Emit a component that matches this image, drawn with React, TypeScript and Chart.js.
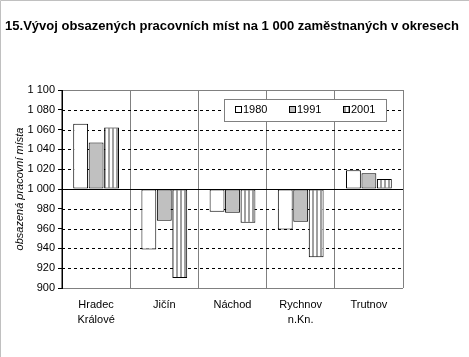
import React, { useEffect, useRef } from 'react';
import { Chart, registerables } from 'chart.js';

Chart.register(...registerables);

const categories: (string | string[])[] = [['Hradec', 'Králové'], 'Jičín', 'Náchod', ['Rychnov', 'n.Kn.'], 'Trutnov'];
const seriesLabels = ['1980', '1991', '2001'];
const values1980 = [1066, 939, 977, 959, 1019];
const values1991 = [1047, 968, 976, 967, 1016];
const values2001 = [1062, 910, 966, 931, 1010];
const yMin = 900;
const yMax = 1100;
const yStep = 20;
const baseValue = 1000;
const titleText = '15.Vývoj obsazených pracovních míst na 1 000 zaměstnaných v okresech';
const yAxisTitle = 'obsazená pracovní místa';

const FAMILY = '"Liberation Sans", Arial, sans-serif';

function fmt(v: number): string {
  const s = String(Math.round(v));
  return s.length > 3 ? s.slice(0, -3) + ' ' + s.slice(-3) : s;
}

function makeStripes(): CanvasPattern | string {
  const c = document.createElement('canvas');
  c.width = 4;
  c.height = 4;
  const g = c.getContext('2d');
  if (!g) return '#c0c0c0';
  g.fillStyle = '#ffffff';
  g.fillRect(0, 0, 4, 4);
  g.fillStyle = '#a0a0a0';
  g.fillRect(0, 0, 2, 4);
  const p = g.createPattern(c, 'repeat');
  return p || '#c0c0c0';
}

export default function App() {
  const ref = useRef<HTMLCanvasElement | null>(null);

  useEffect(() => {
    document.body.style.margin = '0';
    const canvas = ref.current;
    if (!canvas) return;
    const stripes = makeStripes();
    const fills: (string | CanvasPattern)[] = ['#ffffff', '#c0c0c0', stripes];

    const decor = {
      id: 'decor',
      beforeDraw(chart: any) {
        const ctx = chart.ctx as CanvasRenderingContext2D;
        ctx.save();
        ctx.fillStyle = '#fff';
        ctx.fillRect(0, 0, chart.width, chart.height);
        ctx.strokeStyle = '#c0c0c0';
        ctx.lineWidth = 1;
        ctx.beginPath();
        ctx.moveTo(0.5, chart.height);
        ctx.lineTo(0.5, 0.5);
        ctx.lineTo(chart.width, 0.5);
        ctx.stroke();
        ctx.font = 'bold 13px ' + FAMILY;
        ctx.fillStyle = '#000';
        ctx.textAlign = 'center';
        ctx.textBaseline = 'alphabetic';
        ctx.fillText(titleText, 232, 30);
        ctx.restore();
      },
      beforeDatasetsDraw(chart: any) {
        const ctx = chart.ctx as CanvasRenderingContext2D;
        const { left, right } = chart.chartArea;
        const y = chart.scales.y;
        ctx.save();
        ctx.lineWidth = 1;
        for (const t of y.ticks) {
          const v = t.value;
          if (v === baseValue) continue;
          const py = Math.round(y.getPixelForValue(v)) + 0.5;
          if (v === yMin || v === yMax) {
            ctx.strokeStyle = '#808080';
            ctx.setLineDash([]);
          } else {
            ctx.strokeStyle = '#000';
            ctx.setLineDash([3, 3]);
          }
          ctx.beginPath();
          ctx.moveTo(left, py);
          ctx.lineTo(right, py);
          ctx.stroke();
        }
        ctx.restore();
      },
      afterDatasetsDraw(chart: any) {
        const ctx = chart.ctx as CanvasRenderingContext2D;
        const { left, right, top, bottom } = chart.chartArea;
        const y = chart.scales.y;
        ctx.save();
        ctx.lineWidth = 1;
        ctx.strokeStyle = '#000';
        ctx.setLineDash([]);
        const by = Math.round(y.getPixelForValue(baseValue)) + 0.5;
        ctx.beginPath();
        ctx.moveTo(left, by);
        ctx.lineTo(right, by);
        ctx.stroke();
        const lx = Math.round(left) + 0.5;
        ctx.beginPath();
        ctx.moveTo(lx, top);
        ctx.lineTo(lx, bottom + 1);
        ctx.stroke();

        // legend
        const bx = 224.5, byy = 99.5, bw = 162, bh = 22;
        ctx.fillStyle = '#fff';
        ctx.fillRect(bx, byy, bw, bh);
        ctx.strokeStyle = '#808080';
        ctx.strokeRect(bx, byy, bw, bh);
        ctx.font = '11px ' + FAMILY;
        ctx.textAlign = 'left';
        ctx.textBaseline = 'alphabetic';
        chart.data.datasets.forEach((ds: any, i: number) => {
          const sx = 235 + i * 54;
          const sy = 106;
          ctx.fillStyle = ds.backgroundColor;
          ctx.fillRect(sx, sy, 6, 6);
          ctx.strokeStyle = '#000';
          ctx.strokeRect(sx + 0.5, sy + 0.5, 6, 6);
          ctx.fillStyle = '#000';
          ctx.fillText(ds.label, sx + 8, 113);
        });
        ctx.restore();
      },
    };

    const seriesValues = [values1980, values1991, values2001];
    const chart = new Chart(canvas, {
      type: 'bar',
      data: {
        labels: categories,
        datasets: seriesLabels.map((lab, i) => ({
          label: lab,
          data: seriesValues[i],
          backgroundColor: fills[i] as any,
          borderColor: '#000',
          borderWidth: 1,
          borderSkipped: false,
          base: baseValue,
          categoryPercentage: 0.68,
          barPercentage: 0.96,
        })),
      },
      options: {
        responsive: false,
        animation: false,
        devicePixelRatio: 1,
        layout: { padding: { top: 90, right: 66, bottom: 0, left: 0 } },
        plugins: {
          legend: { display: false },
          title: { display: false },
          tooltip: { enabled: false },
        },
        scales: {
          x: {
            grid: { color: '#808080', drawTicks: false, offset: true },
            border: { display: false },
            ticks: {
              font: { family: FAMILY, size: 11, lineHeight: 1.4 },
              color: '#000',
              padding: 9,
              maxRotation: 0,
              autoSkip: false,
            },
            afterFit: (s: any) => {
              s.height = 69;
            },
          },
          y: {
            min: yMin,
            max: yMax,
            ticks: {
              stepSize: yStep,
              callback: (v: any) => fmt(Number(v)),
              font: { family: FAMILY, size: 11 },
              color: '#000',
              padding: 3,
            },
            grid: {
              drawOnChartArea: false,
              drawTicks: true,
              tickLength: 4,
              tickColor: '#000',
              color: '#000',
            },
            border: { display: false },
            title: {
              display: true,
              text: yAxisTitle,
              font: { family: FAMILY, size: 11, style: 'italic', lineHeight: 1.2 },
              color: '#000',
              padding: { top: 13, bottom: 0 },
            },
            afterFit: (s: any) => {
              s.width = 62;
            },
          },
        },
      },
      plugins: [decor],
    });
    return () => chart.destroy();
  }, []);

  return (
    <div style={{ width: 469, height: 357 }}>
      <canvas ref={ref} width={469} height={357} style={{ display: 'block' }} />
    </div>
  );
}
